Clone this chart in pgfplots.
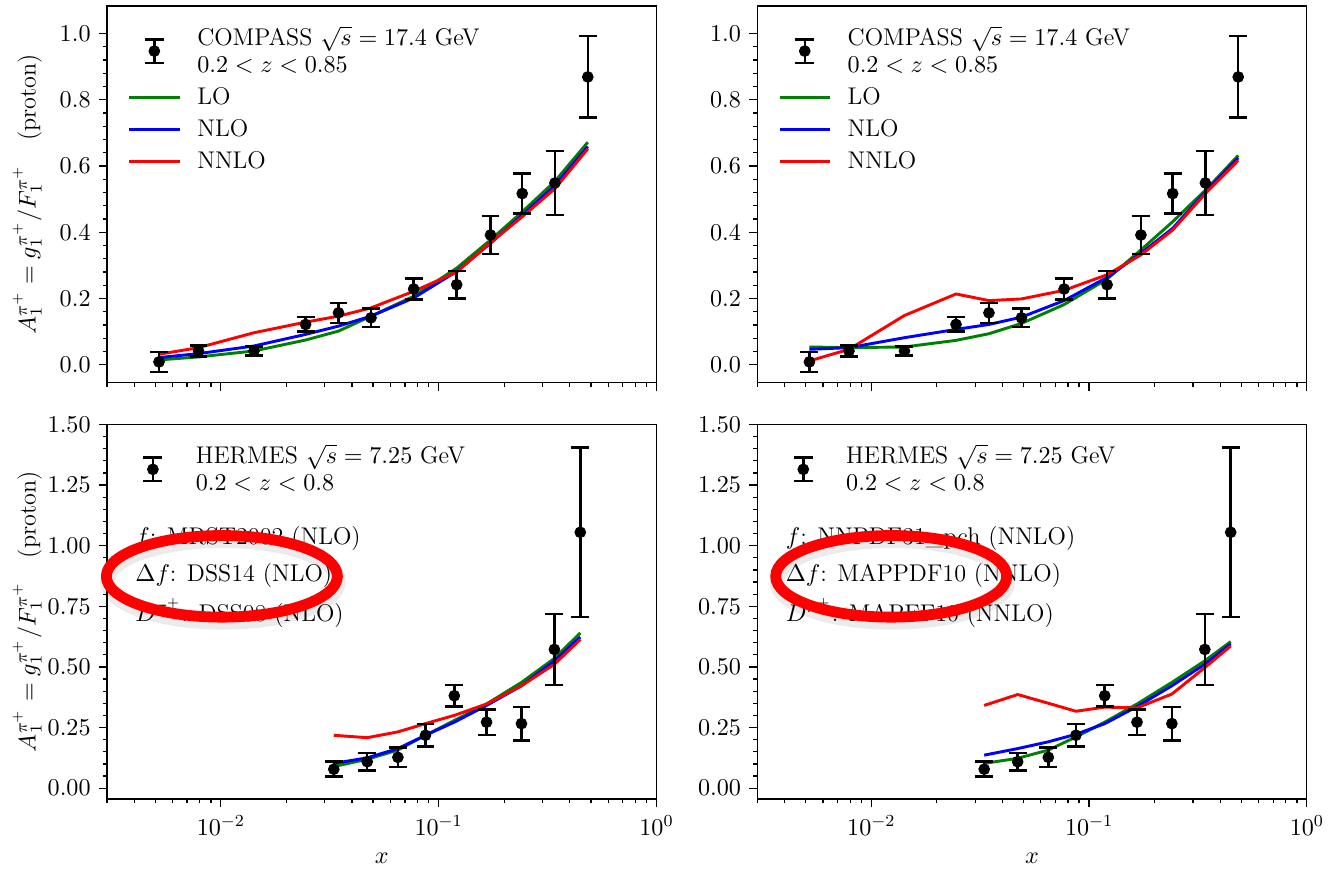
\RequirePackage{fix-cm}
\documentclass[border=0pt]{standalone}
\usepackage{pgfplots}
\pgfplotsset{compat=1.18}
\usepackage{pgfplotstable}
\usepgfplotslibrary{groupplots}

\definecolor{mplgreen}{RGB}{0,128,0}
\definecolor{mplblue}{RGB}{0,0,255}
\definecolor{mplred}{RGB}{255,0,0}

% COMPASS proton pi+ data
\pgfplotstableread{
x      y      e
0.0052 0.009 0.030
0.0079 0.042 0.017
0.0142 0.042 0.013
0.0245 0.122 0.022
0.0347 0.157 0.030
0.0489 0.142 0.028
0.0768 0.229 0.031
0.121  0.242 0.041
0.173  0.392 0.058
0.242  0.517 0.060
0.342  0.549 0.096
0.484  0.869 0.123
}\compass

% HERMES proton pi+ data
\pgfplotstableread{
x     y     e
0.033 0.078 0.031
0.047 0.109 0.036
0.065 0.127 0.040
0.087 0.218 0.046
0.118 0.381 0.045
0.166 0.272 0.052
0.240 0.266 0.069
0.340 0.572 0.146
0.447 1.055 0.350
}\hermes

% theory curves
\pgfplotstableread{
x      lo    nlo   nnlo
0.0052 0.015 0.022 0.032
0.0079 0.024 0.034 0.052
0.0142 0.042 0.057 0.097
0.0245 0.075 0.092 0.129
0.0347 0.102 0.117 0.147
0.0489 0.147 0.147 0.172
0.0768 0.207 0.202 0.222
0.121  0.292 0.282 0.280
0.173  0.377 0.367 0.369
0.242  0.462 0.452 0.447
0.342  0.554 0.542 0.532
0.484  0.672 0.659 0.652
}\thtl

\pgfplotstableread{
x      lo    nlo   nnlo
0.0052 0.054 0.047 0.012
0.0079 0.052 0.052 0.047
0.0142 0.054 0.082 0.149
0.0245 0.074 0.107 0.214
0.0347 0.094 0.122 0.194
0.0489 0.125 0.144 0.199
0.0768 0.182 0.194 0.225
0.121  0.259 0.264 0.272
0.173  0.347 0.337 0.332
0.242  0.432 0.412 0.407
0.342  0.527 0.522 0.517
0.484  0.632 0.625 0.617
}\thtr

\pgfplotstableread{
x     lo    nlo   nnlo
0.033 0.089 0.102 0.218
0.047 0.119 0.125 0.208
0.065 0.157 0.163 0.232
0.087 0.218 0.218 0.266
0.118 0.279 0.272 0.300
0.166 0.347 0.341 0.347
0.240 0.436 0.422 0.422
0.340 0.535 0.525 0.511
0.447 0.640 0.623 0.613
}\thbl

\pgfplotstableread{
x     lo    nlo   nnlo
0.033 0.102 0.136 0.341
0.047 0.123 0.163 0.386
0.065 0.157 0.191 0.350
0.087 0.211 0.222 0.317
0.118 0.272 0.266 0.334
0.166 0.347 0.336 0.331
0.240 0.436 0.422 0.388
0.340 0.525 0.511 0.497
0.447 0.604 0.595 0.586
}\thbr

\pgfplotsset{
  errleg/.style={legend image code/.code={
      \path[draw=none, fill=none] (0cm,0cm) -- (1.15cm,0cm);
      \draw[black, line width=1.2pt] (0.425cm,-0.2cm) -- (0.425cm,0.2cm);
      \draw[black, line width=1.2pt] (0.265cm,0.2cm) -- (0.585cm,0.2cm);
      \draw[black, line width=1.2pt] (0.265cm,-0.2cm) -- (0.585cm,-0.2cm);
      \fill[black] (0.425cm,0cm) circle (2.6pt);}},
  lineleg/.style={legend image code/.code={
      \path[draw=none, fill=none] (0cm,0cm) -- (1.15cm,0cm);
      \draw[##1] (0cm,0cm) -- (0.85cm,0cm);}},
  dataplot/.style={black, only marks, mark=*, mark size=2.6pt, errleg,
      error bars/.cd, y dir=both, y explicit,
      error bar style={line width=1.2pt, black},
      error mark options={rotate=90, line width=1.2pt, mark size=4.3pt, black}},
  curve/.style={line width=1.4pt, forget plot},
}

\newcommand{\alabel}{$A_1^{\pi^+}=g_1^{\pi^+}/F_1^{\pi^+}$\quad(proton)}

\begin{document}
\fontsize{11.6}{13.9}\selectfont
\begin{tikzpicture}
\begin{groupplot}[
  group style={group size=2 by 2, horizontal sep=48.5pt, vertical sep=20pt},
  scale only axis, width=264pt,
  xmode=log, xmin=3e-3, xmax=1,
  tick align=outside, tick pos=left,
  major tick length=3.8pt, minor tick length=2pt,
  axis line style={line width=0.6pt},
  tick style={line width=0.6pt, black},
  minor y tick num=4,
  ylabel style={at={(axis description cs:-0.145,0.5)}, anchor=center},
  xlabel style={at={(axis description cs:0.5,-0.157)}, anchor=center},
  legend style={at={(axis description cs:0.037,0.953)}, anchor=north west,
    draw=none, fill=none, inner sep=0pt, row sep=3.5pt,
    nodes={inner xsep=0pt, inner ysep=1pt}, cells={align=left}},
  legend cell align=left,
  yticklabel style={/pgf/number format/fixed, /pgf/number format/fixed zerofill},
]
% top left
\nextgroupplot[height=181pt, ymin=-0.054, ymax=1.083,
  ytick={0,0.2,0.4,0.6,0.8,1.0}, xticklabel style={opacity=0},
  yticklabel style={/pgf/number format/precision=1},
  ylabel={\alabel}]
\addplot[mplgreen, curve] table[x=x, y=lo] {\thtl};
\addplot[mplblue, curve] table[x=x, y=nlo] {\thtl};
\addplot[mplred, curve] table[x=x, y=nnlo] {\thtl};
\addplot[dataplot] table[x=x, y=y, y error=e] {\compass};
\addlegendentry{COMPASS $\sqrt{s}=17.4$ GeV\\[-1pt]$0.2<z<0.85$}
\addlegendimage{lineleg, mplgreen, line width=1.4pt}
\addlegendentry{LO}
\addlegendimage{lineleg, mplblue, line width=1.4pt}
\addlegendentry{NLO}
\addlegendimage{lineleg, mplred, line width=1.4pt}
\addlegendentry{NNLO}

% top right
\nextgroupplot[height=181pt, ymin=-0.054, ymax=1.083,
  ytick={0,0.2,0.4,0.6,0.8,1.0}, xticklabel style={opacity=0},
  yticklabel style={/pgf/number format/precision=1}]
\addplot[mplgreen, curve] table[x=x, y=lo] {\thtr};
\addplot[mplblue, curve] table[x=x, y=nlo] {\thtr};
\addplot[mplred, curve] table[x=x, y=nnlo] {\thtr};
\addplot[dataplot] table[x=x, y=y, y error=e] {\compass};
\addlegendentry{COMPASS $\sqrt{s}=17.4$ GeV\\[-1pt]$0.2<z<0.85$}
\addlegendimage{lineleg, mplgreen, line width=1.4pt}
\addlegendentry{LO}
\addlegendimage{lineleg, mplblue, line width=1.4pt}
\addlegendentry{NLO}
\addlegendimage{lineleg, mplred, line width=1.4pt}
\addlegendentry{NNLO}

% bottom left
\nextgroupplot[height=180pt, ymin=-0.045, ymax=1.5,
  ytick={0,0.25,0.5,0.75,1.0,1.25,1.5},
  yticklabel style={/pgf/number format/precision=2},
  ylabel={\alabel}, xlabel={$x$}]
\addplot[mplgreen, curve] table[x=x, y=lo] {\thbl};
\addplot[mplblue, curve] table[x=x, y=nlo] {\thbl};
\addplot[mplred, curve] table[x=x, y=nnlo] {\thbl};
\addplot[dataplot] table[x=x, y=y, y error=e] {\hermes};
\addlegendentry{HERMES $\sqrt{s}=7.25$ GeV\\[-1pt]$0.2<z<0.8$}
\node[anchor=west, inner sep=0pt] at (rel axis cs:0.051,0.696) {$f$: MRST2002 (NLO)};
\node[anchor=west, inner sep=0pt] at (rel axis cs:0.051,0.597) {$\Delta f$: DSS14 (NLO)};
\node[anchor=west, inner sep=0pt] at (rel axis cs:0.051,0.496) {$D^{\pi^+}$: DSS08 (NLO)};

% bottom right
\nextgroupplot[height=180pt, ymin=-0.045, ymax=1.5,
  ytick={0,0.25,0.5,0.75,1.0,1.25,1.5},
  yticklabel style={/pgf/number format/precision=2},
  xlabel={$x$}]
\addplot[mplgreen, curve] table[x=x, y=lo] {\thbr};
\addplot[mplblue, curve] table[x=x, y=nlo] {\thbr};
\addplot[mplred, curve] table[x=x, y=nnlo] {\thbr};
\addplot[dataplot] table[x=x, y=y, y error=e] {\hermes};
\addlegendentry{HERMES $\sqrt{s}=7.25$ GeV\\[-1pt]$0.2<z<0.8$}
\node[anchor=west, inner sep=0pt] at (rel axis cs:0.051,0.696) {$f$: NNPDF31\_pch (NNLO)};
\node[anchor=west, inner sep=0pt] at (rel axis cs:0.051,0.597) {$\Delta f$: MAPPDF10 (NNLO)};
\node[anchor=west, inner sep=0pt] at (rel axis cs:0.051,0.496) {$D^{\pi^+}$: MAPFF10 (NNLO)};
\end{groupplot}

% red marker ellipses drawn over the bottom panels
\foreach \ax/\cx in {c1r2/55.2pt, c2r2/64.3pt} {
  \path (group \ax.south west) ++(\cx,107pt) coordinate (ec);
  \draw[black, opacity=0.08, line width=7pt] ([shift={(0.5pt,-2.5pt)}]ec) ellipse (55.5pt and 19.6pt);
  \draw[mplred, line width=5.2pt] (ec) ellipse (55.5pt and 19.6pt);
}

% page frame with the reference margins
\path (group c1r1.north west) ++(-51.4pt,2.9pt) coordinate (figtl);
\path (figtl) rectangle ++(639.4pt,-418.6pt);
\end{tikzpicture}
\end{document}
